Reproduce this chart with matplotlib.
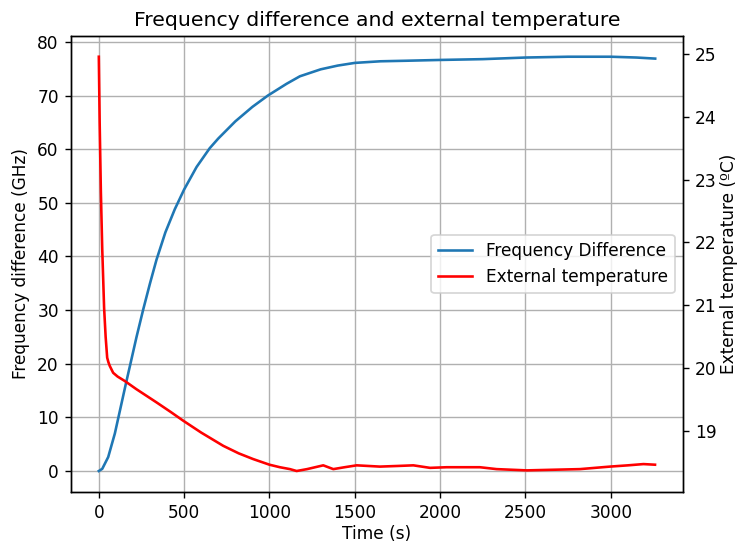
import numpy as np
import matplotlib
matplotlib.use('Agg')
import matplotlib.pyplot as plt

# frequency difference (GHz) vs time (s)
time_freq = [0, 20, 55, 94, 110, 133, 158, 186, 221, 260, 300, 338, 390, 445, 500,
             573, 650, 700, 800, 900, 990, 1100, 1178, 1300, 1400, 1500, 1650, 1800,
             2000, 2250, 2500, 2750, 3000, 3150, 3260]
freq_diff = [0, 0.4, 2.6, 7.0, 9.3, 12.6, 16.2, 20.1, 25, 30.1, 35.0, 39.4, 44.5, 48.8,
             52.5, 56.7, 60.2, 62.0, 65.2, 67.9, 70, 72.2, 73.6, 74.9, 75.6, 76.1, 76.4,
             76.5, 76.65, 76.8, 77.1, 77.25, 77.25, 77.1, 76.9]

# external temperature (ºC) vs time (s)
time_temp = [0, 5, 12, 20, 31, 40, 49, 56, 64, 84, 110, 152, 220, 338, 420, 494, 600,
             729, 820, 904, 1000, 1061, 1120, 1159, 1220, 1315, 1374, 1440, 1511, 1647,
             1750, 1843, 1941, 2038, 2233, 2331, 2507, 2663, 2819, 2995, 3100, 3191, 3259]
temp = [24.95, 23.9, 22.81, 21.9, 20.96, 20.5, 20.17, 20.1, 20.04, 19.93, 19.87, 19.80,
        19.67, 19.46, 19.31, 19.17, 18.98, 18.77, 18.65, 18.56, 18.47, 18.43, 18.40,
        18.37, 18.40, 18.46, 18.40, 18.43, 18.46, 18.44, 18.45, 18.46, 18.42, 18.43,
        18.43, 18.40, 18.38, 18.39, 18.40, 18.44, 18.46, 18.48, 18.47]

plt.rcParams['font.size'] = 9.8
fig, ax1 = plt.subplots(figsize=(5.904, 4.352), dpi=125)
fig.subplots_adjust(left=0.0962, right=0.9255, top=0.9338, bottom=0.0961)

l1, = ax1.plot(time_freq, freq_diff, color='#1f77b4', label='Frequency Difference')
ax1.set_xlabel('Time (s)', labelpad=2)
ax1.set_ylabel('Frequency difference (GHz)')
ax1.grid(True)

ax2 = ax1.twinx()
l2, = ax2.plot(time_temp, temp, color='red', label='External temperature')
ax2.set_ylabel('External temperature (ºC)', labelpad=2)

ax1.legend(handles=[l1, l2], loc='center right')
plt.title('Frequency difference and external temperature')

fig.savefig('out.png', dpi=125)
